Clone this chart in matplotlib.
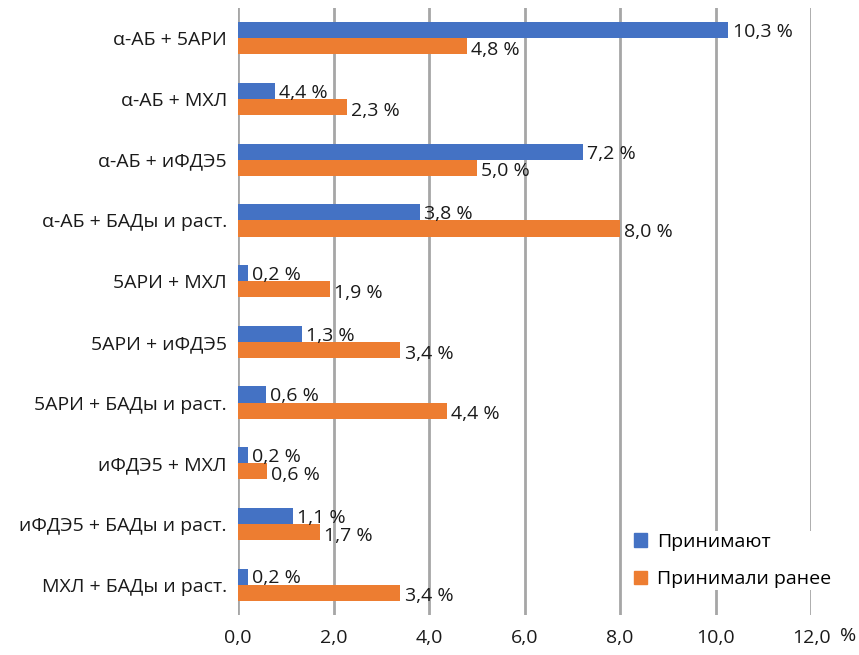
import numpy as np
import matplotlib.pyplot as plt
from matplotlib.patches import Patch

plt.rcParams['font.family'] = ['Open Sans', 'DejaVu Sans']

categories = ["α-АБ + 5АРИ", "α-АБ + МХЛ", "α-АБ + иФДЭ5", "α-АБ + БАДы и раст.",
              "5АРИ + МХЛ", "5АРИ + иФДЭ5", "5АРИ + БАДы и раст.", "иФДЭ5 + МХЛ",
              "иФДЭ5 + БАДы и раст.", "МХЛ + БАДы и раст."]
# bar lengths as drawn (the 4,4 % bar is drawn short in the original)
now = [10.27, 0.78, 7.22, 3.81, 0.21, 1.34, 0.59, 0.2, 1.15, 0.2]
before = [4.8, 2.28, 5.0, 8.0, 1.92, 3.4, 4.38, 0.6, 1.72, 3.4]
now_labels = ["10,3 %", "4,4 %", "7,2 %", "3,8 %", "0,2 %", "1,3 %", "0,6 %", "0,2 %", "1,1 %", "0,2 %"]
before_labels = ["4,8 %", "2,3 %", "5,0 %", "8,0 %", "1,9 %", "3,4 %", "4,4 %", "0,6 %", "1,7 %", "3,4 %"]
ticks = [0, 2, 4, 6, 8, 10, 12]
series_names = ["Принимают", "Принимали ранее"]

blue = "#4472C4"
orange = "#ED7D31"
txt = "#1a1a1a"
fs = 14

fig = plt.figure(figsize=(8.59, 6.55), dpi=100)
ax = fig.add_axes([238/859, 40/655, (811-238)/859, (615-8)/655])

y = np.arange(len(categories))
h = 0.265
ax.barh(y - h/2, now, height=h, color=blue, zorder=3)
ax.barh(y + h/2, before, height=h, color=orange, zorder=3)

for yi, v, lab in zip(y, now, now_labels):
    ax.annotate(lab, (v, yi - h/2 + 0.03), xytext=(3, 0),
                textcoords="offset points", va="center", ha="left", fontsize=fs, color=txt)
for yi, v, lab in zip(y, before, before_labels):
    ax.annotate(lab, (v, yi + h/2 + 0.06), xytext=(3, 0),
                textcoords="offset points", va="center", ha="left", fontsize=fs, color=txt)

ax.set_ylim(len(categories) - 0.5, -0.5)
ax.set_xlim(0, 12)
ax.set_yticks(y)
ax.set_yticklabels(categories, fontsize=fs, color=txt)
ax.set_xticks(ticks)
ax.set_xticklabels([f"{t:.1f}".replace(".", ",") for t in ticks], fontsize=fs, color=txt)
ax.tick_params(length=0, pad=8)
ax.tick_params(axis="x", pad=10)
for s in ax.spines.values():
    s.set_visible(False)
ax.grid(axis="x", color="#A6A6A6", linewidth=2, zorder=0)
ax.set_axisbelow(True)

fig.text(848/859, 1 - 636/655, "%", fontsize=fs, ha="center", va="center", color=txt)

handles = [Patch(color=blue), Patch(color=orange)]
leg = fig.legend(handles, series_names, loc="upper left", bbox_to_anchor=(622/859, 1 - 521/655),
                 frameon=True, fontsize=fs, handlelength=0.7, handleheight=0.7,
                 labelspacing=1.0, handletextpad=0.5, borderpad=0.1)
leg.get_frame().set_edgecolor("none")
leg.get_frame().set_facecolor("white")
leg.get_frame().set_alpha(1)

fig.savefig("out.png", dpi=100)
